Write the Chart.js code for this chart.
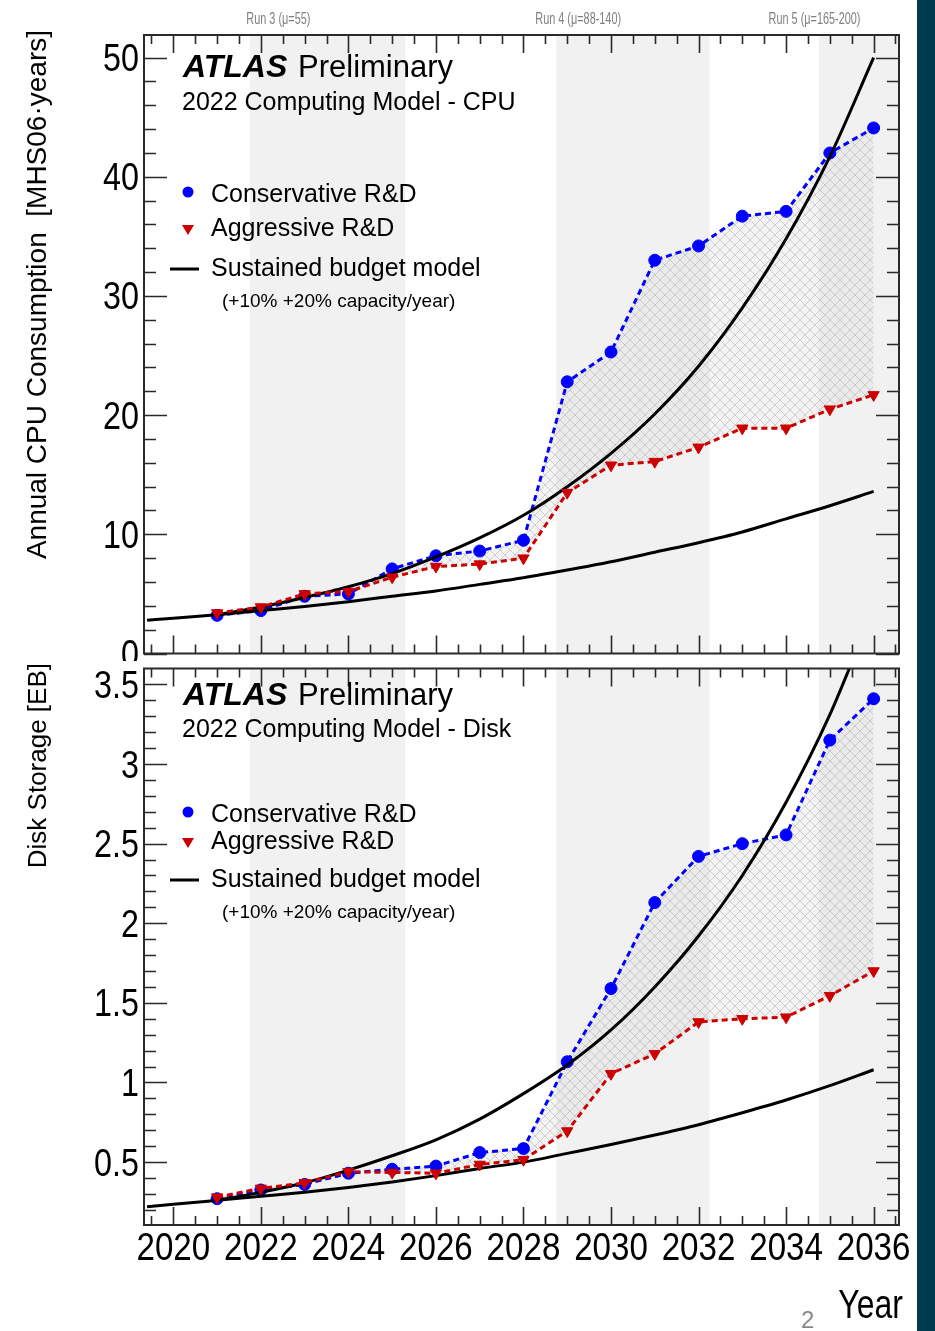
<!DOCTYPE html>
<html>
<head>
<meta charset="utf-8">
<script src="https://cdn.jsdelivr.net/npm/chart.js@4.4.1/dist/chart.umd.min.js"></script>
<style>
  html, body { margin: 0; padding: 0; background: #fff; }
  #wrap { position: relative; width: 935px; height: 1331px; overflow: hidden; background: #fff; }
  #cpuChart { position: absolute; left: 0; top: 0; }
  #diskChart { position: absolute; left: 0; top: 661px; }
  #strip { position: absolute; left: 917px; top: 0; width: 18px; height: 1331px; background: #003a4f; }
</style>
</head>
<body>
<div id="wrap">
  <canvas id="cpuChart" width="935" height="661"></canvas>
  <canvas id="diskChart" width="935" height="670"></canvas>
  <div id="strip"></div>
</div>
<script>
// ---- data ----
const years = [2021, 2022, 2023, 2024, 2025, 2026, 2027, 2028, 2029, 2030, 2031, 2032, 2033, 2034, 2035, 2036];
const cpuConservative = [3.2, 3.6, 4.8, 5.0, 7.1, 8.2, 8.6, 9.5, 22.8, 25.3, 33.0, 34.2, 36.7, 37.1, 42.0, 44.1];
const cpuAggressive = [3.4, 3.9, 5.0, 5.2, 6.4, 7.3, 7.5, 8.0, 13.5, 15.8, 16.1, 17.3, 18.9, 18.9, 20.5, 21.7];
const diskConservative = [0.27, 0.325, 0.36, 0.43, 0.455, 0.475, 0.56, 0.585, 1.13, 1.59, 2.13, 2.42, 2.5, 2.555, 3.15, 3.41];
const diskAggressive = [0.28, 0.335, 0.37, 0.44, 0.435, 0.43, 0.485, 0.515, 0.695, 1.055, 1.18, 1.38, 1.40, 1.41, 1.545, 1.70];

// sustained budget curves (+20%/year and +10%/year)
const budgetYearsHigh = [2021, 2022, 2023, 2024, 2025, 2026, 2027, 2028, 2029, 2030, 2031, 2032, 2033, 2034, 2035, 2036];
const budgetYearsLow = [2019.4, 2020, 2021, 2022, 2023, 2024, 2025, 2026, 2027, 2028, 2029, 2030, 2031, 2032, 2033, 2034, 2035, 2036];
const cpuBudgetHigh = [3.25, 3.9, 4.7, 5.6, 6.7, 8.1, 9.7, 11.6, 14.0, 16.8, 20.1, 24.1, 29.0, 34.8, 41.7, 50.0];
const cpuBudgetLow = [2.8, 2.95, 3.25, 3.6, 3.95, 4.35, 4.8, 5.25, 5.8, 6.35, 7.0, 7.7, 8.5, 9.3, 10.2, 11.3, 12.4, 13.6];
const diskBudgetHigh = [0.26, 0.31, 0.37, 0.45, 0.54, 0.64, 0.77, 0.93, 1.11, 1.33, 1.60, 1.92, 2.30, 2.76, 3.31, 3.98];
const diskBudgetLow = [0.22, 0.235, 0.26, 0.285, 0.31, 0.34, 0.375, 0.415, 0.46, 0.50, 0.555, 0.61, 0.67, 0.735, 0.81, 0.89, 0.98, 1.08];

const yearTicks = [2020, 2022, 2024, 2026, 2028, 2030, 2032, 2034, 2036];
const cpuTicks = [0, 10, 20, 30, 40, 50];
const diskTicks = [0.5, 1, 1.5, 2, 2.5, 3, 3.5];

const runBands = [[2021.75, 2025.3], [2028.75, 2032.25], [2034.75, 2036.6]];
const runLabels = ['Run 3 (\u03bc=55)', 'Run 4 (\u03bc=88-140)', 'Run 5 (\u03bc=165-200)'];
const runLabelAt = [2022.4, 2029.25, 2034.65];

const SANS = "'Liberation Sans', Arial, Helvetica, sans-serif";
const BLUE = '#0000ff';
const RED = '#cc0000';

function xy(xs, ys) {
    return ys.map((v, i) => ({ x: xs[i], y: v }));
}

function hatchPattern() {
    const c = document.createElement('canvas');
    c.width = 10; c.height = 10;
    const g = c.getContext('2d');
    g.fillStyle = 'rgba(225,225,225,0.4)';
    g.fillRect(0, 0, 10, 10);
    g.strokeStyle = 'rgba(170,170,170,0.5)';
    g.lineWidth = 1;
    g.beginPath();
    g.moveTo(0, 0); g.lineTo(10, 10);
    g.moveTo(10, 0); g.lineTo(0, 10);
    g.stroke();
    return g.createPattern(c, 'repeat');
}

function drawDownTriangle(ctx, x, y, s) {
    ctx.beginPath();
    ctx.moveTo(x - s, y - s * 0.85);
    ctx.lineTo(x + s, y - s * 0.85);
    ctx.lineTo(x, y + s * 0.85);
    ctx.closePath();
    ctx.fill();
}

// narrow text like the ROOT axis font
function narrowText(ctx, text, x, y, sx, align) {
    ctx.save();
    ctx.translate(x, y);
    ctx.scale(sx, 1);
    ctx.textAlign = align;
    ctx.fillText(text, 0, 0);
    ctx.restore();
}

// frame, inward ticks, labels, header, legend
function panelPlugin(p) {
    return {
        id: 'panel',
        beforeDraw(chart) {
            const { ctx, chartArea: a, scales: { x } } = chart;
            ctx.save();
            ctx.fillStyle = '#f1f1f1';
            runBands.forEach(([b0, b1]) => {
                const x0 = Math.max(a.left, x.getPixelForValue(b0));
                const x1 = Math.min(a.right, x.getPixelForValue(b1));
                ctx.fillRect(x0, a.top, x1 - x0, a.bottom - a.top);
            });
            ctx.restore();
        },
        afterDatasetsDraw(chart) {
            const { ctx, chartArea: a, scales: { x, y } } = chart;
            ctx.save();
            ctx.strokeStyle = '#2a2a2a';
            ctx.lineWidth = 1.6;
            ctx.beginPath();
            for (let v = 2019.5; v <= 2036.51; v += 0.5) {
                const px = Math.round(x.getPixelForValue(v)) + 0.5;
                const len = (Math.abs(v % 2) < 1e-6) ? 18 : 9;
                ctx.moveTo(px, a.bottom); ctx.lineTo(px, a.bottom - len);
                ctx.moveTo(px, a.top); ctx.lineTo(px, a.top + len);
            }
            const n = Math.round((p.yMax - p.yMinorStart) / p.yMinorStep);
            for (let i = 0; i <= n; i++) {
                const v = p.yMinorStart + i * p.yMinorStep;
                if (v < y.min || v > y.max) continue;
                const py = Math.round(y.getPixelForValue(v)) + 0.5;
                const major = p.yTicks.some(t => Math.abs(t - v) < 1e-6);
                const len = major ? 23 : 12;
                ctx.moveTo(a.left, py); ctx.lineTo(a.left + len, py);
                ctx.moveTo(a.right, py); ctx.lineTo(a.right - len, py);
            }
            ctx.stroke();
            ctx.lineWidth = 2;
            ctx.strokeRect(a.left, a.top, a.right - a.left, a.bottom - a.top);

            // tick labels, placed from the chart scales
            ctx.fillStyle = '#000';
            ctx.textBaseline = 'alphabetic';
            ctx.font = '38px ' + SANS;
            y.ticks.forEach(t => {
                narrowText(ctx, String(t.value), a.left - 5, y.getPixelForValue(t.value) + 13.5, 0.85, 'right');
            });
            if (p.xLabels) {
                ctx.font = '39px ' + SANS;
                x.ticks.forEach(t => {
                    narrowText(ctx, String(t.value), x.getPixelForValue(t.value), a.bottom + 35, 0.85, 'center');
                });
            }

            // header
            ctx.textAlign = 'left';
            ctx.font = 'italic bold 32px ' + SANS;
            ctx.fillText('ATLAS', 183, p.atlasY);
            ctx.font = '31px ' + SANS;
            ctx.fillText('Preliminary', 298, p.atlasY);
            ctx.font = '25px ' + SANS;
            ctx.fillText(p.subtitle, 182, p.subY);

            // legend
            ctx.fillStyle = BLUE;
            ctx.beginPath();
            ctx.arc(188, p.legY[0], 5.5, 0, Math.PI * 2);
            ctx.fill();
            ctx.fillStyle = RED;
            drawDownTriangle(ctx, 188, p.legY[1], 6);
            ctx.strokeStyle = '#000';
            ctx.lineWidth = 3;
            ctx.beginPath();
            ctx.moveTo(170, p.legY[2]); ctx.lineTo(199, p.legY[2]);
            ctx.stroke();
            ctx.fillStyle = '#000';
            ctx.font = '25px ' + SANS;
            ctx.fillText('Conservative R&D', 211, p.legY[0] + 10);
            ctx.fillText('Aggressive R&D', 211, p.legY[1] + 6);
            ctx.fillText('Sustained budget model', 211, p.legY[2] + 7);
            ctx.font = '19px ' + SANS;
            ctx.fillText('(+10% +20% capacity/year)', 222, p.legY[2] + 38);

            // y title
            ctx.save();
            ctx.translate(46, p.titleTop);
            ctx.rotate(-Math.PI / 2);
            ctx.textAlign = 'right';
            ctx.font = p.titleSize + 'px ' + SANS;
            ctx.fillText(p.yTitle, 0, 0);
            ctx.restore();

            if (p.runs) {
                ctx.fillStyle = '#808080';
                ctx.font = '16px ' + SANS;
                runLabels.forEach((t, i) => narrowText(ctx, t, x.getPixelForValue(runLabelAt[i]), 24, 0.68, 'center'));
            }
            if (p.year) {
                ctx.fillStyle = '#000';
                ctx.font = '40px ' + SANS;
                narrowText(ctx, 'Year', 903, 657, 0.8, 'right');
                ctx.fillStyle = '#888';
                ctx.font = '24px ' + SANS;
                ctx.textAlign = 'left';
                ctx.fillText('2', 801, 667);
            }
            ctx.restore();
        }
    };
}

function makePanel(id, p) {
    const pattern = hatchPattern();
    return new Chart(document.getElementById(id), {
        type: 'line',
        data: {
            datasets: [
                {
                    label: 'Conservative R&D',
                    data: xy(years, p.cons),
                    borderColor: BLUE,
                    backgroundColor: pattern,
                    pointBackgroundColor: BLUE,
                    pointBorderColor: BLUE,
                    pointBorderWidth: 1,
                    pointRadius: 6,
                    borderWidth: 3,
                    borderDash: [6, 4],
                    fill: '+1',
                    order: 2
                },
                {
                    label: 'Aggressive R&D',
                    data: xy(years, p.aggr),
                    borderColor: RED,
                    pointBackgroundColor: RED,
                    pointBorderColor: RED,
                    pointBorderWidth: 1,
                    pointStyle: 'triangle',
                    rotation: 180,
                    pointRadius: 6.5,
                    borderWidth: 3,
                    borderDash: [6, 4],
                    fill: false,
                    order: 0
                },
                {
                    label: '+20%',
                    data: xy(budgetYearsHigh, p.high),
                    borderColor: '#000',
                    borderWidth: 3,
                    pointRadius: 0,
                    cubicInterpolationMode: 'monotone',
                    fill: false,
                    order: 1
                },
                {
                    label: '+10%',
                    data: xy(budgetYearsLow, p.low),
                    borderColor: '#000',
                    borderWidth: 3,
                    pointRadius: 0,
                    cubicInterpolationMode: 'monotone',
                    fill: false,
                    order: 1
                }
            ]
        },
        options: {
            responsive: false,
            animation: false,
            devicePixelRatio: 1,
            layout: { padding: { left: 0, right: 36, top: p.padTop, bottom: 0 } },
            plugins: { legend: { display: false }, tooltip: { enabled: false } },
            scales: {
                x: {
                    type: 'linear',
                    min: 2019.33,
                    max: 2036.58,
                    grid: { display: false, drawTicks: false },
                    border: { display: false },
                    afterBuildTicks: s => { s.ticks = yearTicks.map(v => ({ value: v })); },
                    afterFit: s => { s.height = p.xHeight; },
                    ticks: { display: false }
                },
                y: {
                    min: p.yMin,
                    max: p.yMax,
                    grid: { display: false, drawTicks: false },
                    border: { display: false },
                    afterBuildTicks: s => { s.ticks = p.yTicks.map(v => ({ value: v })); },
                    afterFit: s => { s.width = 144; },
                    ticks: { display: false }
                }
            }
        },
        plugins: [panelPlugin(p)]
    });
}

makePanel('cpuChart', {
    cons: cpuConservative, aggr: cpuAggressive, high: cpuBudgetHigh, low: cpuBudgetLow,
    yMin: 0, yMax: 51.9, yTicks: cpuTicks, yMinorStart: 0, yMinorStep: 2,
    padTop: 35, xHeight: 7, xLabels: false,
    subtitle: '2022 Computing Model - CPU',
    atlasY: 77, subY: 110, legY: [192, 230, 269],
    yTitle: 'Annual CPU Consumption  [MHS06\u00b7years]', titleTop: 30, titleSize: 28,
    runs: true, year: false
});

makePanel('diskChart', {
    cons: diskConservative, aggr: diskAggressive, high: diskBudgetHigh, low: diskBudgetLow,
    yMin: 0.105, yMax: 3.6, yTicks: diskTicks, yMinorStart: 0.2, yMinorStep: 0.1,
    padTop: 7, xHeight: 106, xLabels: true,
    subtitle: '2022 Computing Model - Disk',
    atlasY: 44, subY: 76, legY: [151, 182, 219],
    yTitle: 'Disk Storage [EB]', titleTop: 2, titleSize: 26,
    runs: false, year: true
});
</script>
</body>
</html>
